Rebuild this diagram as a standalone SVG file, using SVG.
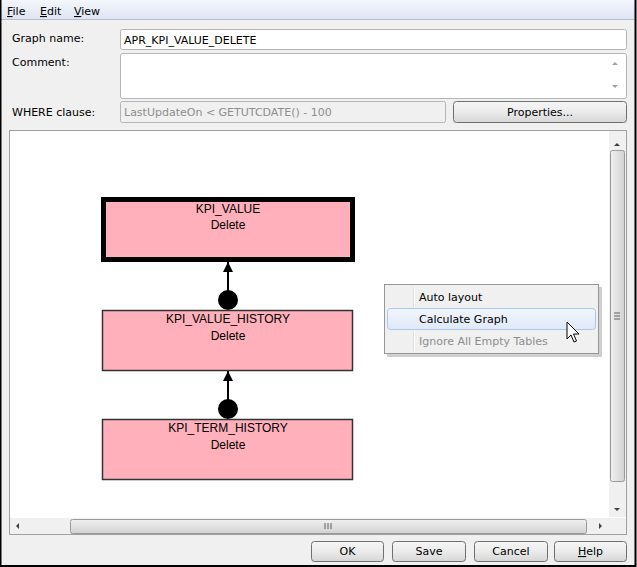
<svg xmlns="http://www.w3.org/2000/svg" width="637" height="567" viewBox="0 0 637 567">
<defs>
<linearGradient id="menubar" x1="0" y1="0" x2="0" y2="1"><stop offset="0" stop-color="#f4f6fb"/><stop offset="1" stop-color="#dde4f3"/></linearGradient>
<linearGradient id="btn" x1="0" y1="0" x2="0" y2="1"><stop offset="0" stop-color="#f6f6f6"/><stop offset="0.5" stop-color="#ebebeb"/><stop offset="1" stop-color="#d6d6d6"/></linearGradient>
<linearGradient id="vthumb" x1="0" y1="0" x2="1" y2="0"><stop offset="0" stop-color="#f0f0f0"/><stop offset="1" stop-color="#d2d2d2"/></linearGradient>
<linearGradient id="hthumb" x1="0" y1="0" x2="0" y2="1"><stop offset="0" stop-color="#f0f0f0"/><stop offset="1" stop-color="#d2d2d2"/></linearGradient>
<linearGradient id="hl" x1="0" y1="0" x2="0" y2="1"><stop offset="0" stop-color="#f1f5fc"/><stop offset="1" stop-color="#e0e9f8"/></linearGradient>
<marker id="arrow" viewBox="0 0 10 10" refX="10" refY="5" markerWidth="10" markerHeight="10" markerUnits="userSpaceOnUse" orient="auto"><path d="M0,0 L10,5 L0,10 z" fill="#000"/></marker>
</defs>
<style>
.ui{font-family:Tahoma,"DejaVu Sans","Liberation Sans",sans-serif;font-size:11px;fill:#000}
.nt{font-family:"Liberation Sans",Arial,sans-serif;font-size:12px;fill:#000;text-anchor:middle}
.node{fill:#ffb0bb;stroke:#333;stroke-width:1.5}
.field{fill:#fff;stroke:#b5b5b5;stroke-width:1}
.button{fill:url(#btn);stroke:#707070;stroke-width:1}
.bt{font-family:Tahoma,"DejaVu Sans","Liberation Sans",sans-serif;font-size:11px;fill:#000;text-anchor:middle}
</style>
<rect x="0" y="0" width="637" height="567" fill="#f0f0f0"/>
<rect x="1" y="0" width="635" height="20" fill="url(#menubar)"/>
<line x1="0" y1="19.5" x2="637" y2="19.5" stroke="#b6bccc"/>
<rect x="0.5" y="-1" width="635" height="567" fill="none" stroke="#000" stroke-width="2"/>
<g id="menu">
<text class="ui" x="7" y="15"><tspan text-decoration="underline">F</tspan>ile</text>
<text class="ui" x="40" y="15"><tspan text-decoration="underline">E</tspan>dit</text>
<text class="ui" x="74" y="15"><tspan text-decoration="underline">V</tspan>iew</text>
</g>
<g id="form">
<text class="ui" x="12" y="42">Graph name:</text>
<rect class="field" x="120.5" y="29.5" width="506" height="20" rx="2"/>
<text class="ui" x="124" y="44">APR_KPI_VALUE_DELETE</text>
<text class="ui" x="12" y="66">Comment:</text>
<rect class="field" x="120.5" y="53.5" width="506" height="45" rx="2"/>
<path d="M612,65 l3,-3 l3,3 z M612,85 l3,3 l3,-3 z" fill="#a0a0a0"/>
<text class="ui" x="12" y="116">WHERE clause:</text>
<rect x="120.5" y="101.5" width="325" height="21" rx="2" fill="#f0f0f0" stroke="#b5b5b5"/>
<text class="ui" x="124" y="116" style="fill:#8d8d8d">LastUpdateOn &lt; GETUTCDATE() - 100</text>
<rect class="button" x="453.5" y="101.5" width="173" height="21" rx="3"/>
<text class="bt" x="540" y="116">Properties...</text>
</g>
<g id="canvas">
<rect x="9.5" y="130.5" width="617" height="404" fill="#fff" stroke="#a0a0a0"/>
<rect x="609" y="131" width="17" height="386" fill="#f0f0f0"/>
<path d="M614,146 l3,-3 l3,3 z" fill="#404040"/>
<rect x="610.5" y="150.5" width="14" height="331" rx="2" fill="url(#vthumb)" stroke="#9a9a9a"/>
<path d="M614,313 h6 M614,316 h6 M614,319 h6" stroke="#606060"/>
<path d="M614,508 l3,3 l3,-3 z" fill="#404040"/>
<rect x="10" y="518" width="599" height="16" fill="#f0f0f0"/>
<path d="M19,523 l-3,3 l3,3 z" fill="#404040"/>
<rect x="70.5" y="519.5" width="516" height="14" rx="2" fill="url(#hthumb)" stroke="#9a9a9a"/>
<path d="M325,523 v6 M328,523 v6 M331,523 v6" stroke="#606060"/>
<path d="M599,523 l3,3 l-3,3 z" fill="#404040"/>
<rect x="609" y="518" width="17" height="16" fill="#f0f0f0"/>
</g>
<g id="connectors">
<line x1="228" y1="300" x2="228" y2="262" stroke="#000" stroke-width="2" marker-end="url(#arrow)"/>
<circle cx="228" cy="300" r="10" fill="#000"/>
<line x1="228" y1="409" x2="228" y2="371" stroke="#000" stroke-width="2" marker-end="url(#arrow)"/>
<circle cx="228" cy="409" r="10" fill="#000"/>
</g>
<g id="node-kpi-value">
<rect x="103.5" y="199.5" width="249" height="60" fill="#ffb0bb" stroke="#000" stroke-width="5"/>
<text class="nt" x="228" y="213">KPI_VALUE</text>
<text class="nt" x="228" y="229">Delete</text>
</g>
<g id="node-kpi-value-history">
<rect class="node" x="102.5" y="310.5" width="250" height="60"/>
<text class="nt" x="228" y="323">KPI_VALUE_HISTORY</text>
<text class="nt" x="228" y="340">Delete</text>
</g>
<g id="node-kpi-term-history">
<rect class="node" x="102.5" y="419.5" width="250" height="60"/>
<text class="nt" x="228" y="432">KPI_TERM_HISTORY</text>
<text class="nt" x="228" y="449">Delete</text>
</g>
<g id="context-menu">
<rect x="387" y="287" width="215" height="70" fill="#a0a0a0" opacity="0.5"/>
<rect x="384.5" y="284.5" width="214" height="69" fill="#f0f0f0" stroke="#979797"/>
<line x1="413.5" y1="287" x2="413.5" y2="351" stroke="#e0e0e0"/>
<line x1="414.5" y1="287" x2="414.5" y2="351" stroke="#ffffff"/>
<text class="ui" x="419" y="301">Auto layout</text>
<rect x="387.5" y="308.5" width="208" height="21" rx="3" fill="url(#hl)" stroke="#a8c8f0"/>
<text class="ui" x="419" y="323">Calculate Graph</text>
<text class="ui" x="419" y="345" style="fill:#8d8d8d">Ignore All Empty Tables</text>
</g>
<g id="cursor">
<path d="M567,322 v17 l4,-4 l3,7 l2.5,-1 l-3,-7 h5.5 z" fill="#fff" stroke="#000" stroke-width="1"/>
</g>
<g id="buttons">
<rect class="button" x="311.5" y="541.5" width="72" height="20" rx="3"/>
<text class="bt" x="347.5" y="555">OK</text>
<rect class="button" x="392.5" y="541.5" width="73" height="20" rx="3"/>
<text class="bt" x="429" y="555">Save</text>
<rect class="button" x="474.5" y="541.5" width="73" height="20" rx="3"/>
<text class="bt" x="511" y="555">Cancel</text>
<rect class="button" x="554.5" y="541.5" width="72" height="20" rx="3"/>
<text class="bt" x="590.5" y="555"><tspan text-decoration="underline">H</tspan>elp</text>
</g>
</svg>
